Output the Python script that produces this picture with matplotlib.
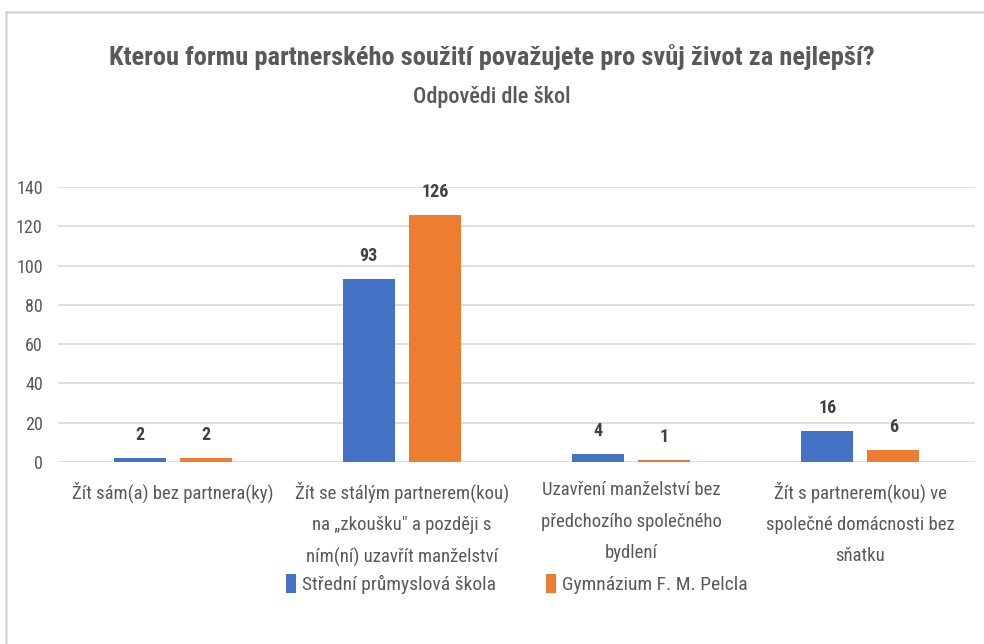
import matplotlib.pyplot as plt
import numpy as np
from matplotlib.lines import Line2D

plt.rcParams['font.family'] = ['Roboto Condensed', 'Open Sans', 'DejaVu Sans']

categories = ["Žít sám(a) bez partnera(ky)",
              "Žít se stálým partnerem(kou)\nna „zkoušku\" a později s\nním(ní) uzavřít manželství",
              "Uzavření manželství bez\npředchozího společného\nbydlení",
              "Žít s partnerem(kou) ve\nspolečné domácnosti bez\nsňatku"]
series_names = ["Střední průmyslová škola", "Gymnázium F. M. Pelcla"]
spps = [2, 93, 4, 16]
gym = [2, 126, 1, 6]
colors = ["#4472C4", "#ED7D31"]
gray = "#595959"

fig = plt.figure(figsize=(9.84, 6.44), dpi=100)
# chart frame: only top and left edges are visible in the picture
top, left = 1 - 11.5/644, 5.5/984
fig.add_artist(Line2D([left, 1], [top, top], transform=fig.transFigure, color="#d6d6d6", lw=1.8))
fig.add_artist(Line2D([left, left], [0, top], transform=fig.transFigure, color="#d6d6d6", lw=1.8))

ax = fig.add_axes([58/984, 1 - 462/644, (975-58)/984, (462-187)/644])

x = np.arange(len(categories))
w = 0.227
off = 0.144
b1 = ax.bar(x - off, spps, w, color=colors[0], label=series_names[0])
b2 = ax.bar(x + off, gym, w, color=colors[1], label=series_names[1])
for bars in (b1, b2):
    ax.bar_label(bars, padding=10, fontsize=13, fontweight='bold', color="#404040")

ax.set_xlim(-0.5, 3.5)
ax.set_ylim(0, 140)
ax.set_yticks(range(0, 141, 20))
ax.set_xticks(x)
ax.set_xticklabels(categories, fontsize=13.5, color=gray, linespacing=1.95, va='top')
ax.tick_params(axis='both', length=0, labelsize=13, colors=gray)
ax.tick_params(axis='x', pad=14, labelsize=13.5)
ax.tick_params(axis='y', pad=11)
ax.grid(axis='y', color="#d9d9d9", linewidth=1.2)
ax.set_axisbelow(True)
for s in ax.spines.values():
    s.set_visible(False)

fig.text(0.5, 1 - 57/644, "Kterou formu partnerského soužití považujete pro svůj život za nejlepší?",
         ha='center', va='center', fontsize=19, fontweight='bold', color=gray)
fig.text(0.5, 1 - 97/644, "Odpovědi dle škol", ha='center', va='center', fontsize=16,
         fontweight=500, color=gray)

fig.legend(loc='center', bbox_to_anchor=(517/984, 1 - 584/644), ncol=2, frameon=False,
           fontsize=14, labelcolor=gray, handlelength=0.5, handleheight=1.1, columnspacing=2.6,
           handletextpad=0.3)

fig.savefig("out.png", dpi=100)
